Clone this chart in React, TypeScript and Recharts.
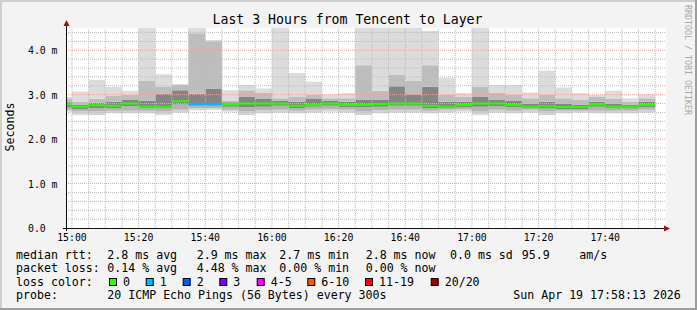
import React from "react";
import { ComposedChart, Area, Line, XAxis, YAxis, CartesianGrid, ReferenceLine } from "recharts";

// 5 minute steps (start of each step), milliseconds
const STEP_TIMES = [
  "14:55", "15:00", "15:05", "15:10", "15:15", "15:20", "15:25", "15:30", "15:35", "15:40", "15:45", "15:50",
  "15:55", "16:00", "16:05", "16:10", "16:15", "16:20", "16:25", "16:30", "16:35", "16:40", "16:45", "16:50",
  "16:55", "17:00", "17:05", "17:10", "17:15", "17:20", "17:25", "17:30", "17:35", "17:40", "17:45", "17:50",
];
const minMs = [
  2.62, 2.55, 2.54, 2.58, 2.58, 2.58, 2.55, 2.6, 2.65, 2.66, 2.62, 2.54,
  2.58, 2.6, 2.58, 2.6, 2.62, 2.6, 2.54, 2.58, 2.6, 2.6, 2.58, 2.6,
  2.62, 2.55, 2.6, 2.58, 2.6, 2.54, 2.58, 2.6, 2.58, 2.58, 2.58, 2.6,
];
const p10Ms = [
  2.66, 2.62, 2.62, 2.64, 2.64, 2.64, 2.62, 2.66, 2.7, 2.7, 2.66, 2.62,
  2.65, 2.66, 2.64, 2.66, 2.68, 2.66, 2.62, 2.65, 2.66, 2.66, 2.64, 2.66,
  2.68, 2.62, 2.66, 2.64, 2.66, 2.62, 2.64, 2.64, 2.64, 2.64, 2.64, 2.66,
];
const p25Ms = [
  2.72, 2.68, 2.7, 2.7, 2.74, 2.69, 2.69, 2.78, 2.75, 2.75, 2.73, 2.72,
  2.73, 2.75, 2.7, 2.73, 2.75, 2.72, 2.72, 2.73, 2.75, 2.75, 2.7, 2.69,
  2.72, 2.73, 2.74, 2.72, 2.69, 2.69, 2.68, 2.68, 2.73, 2.69, 2.69, 2.72,
];
const medianMs = [
  2.78, 2.73, 2.76, 2.75, 2.8, 2.73, 2.73, 2.85, 2.79, 2.79, 2.78, 2.8,
  2.8, 2.8, 2.75, 2.77, 2.8, 2.77, 2.77, 2.79, 2.8, 2.8, 2.75, 2.73,
  2.77, 2.8, 2.8, 2.77, 2.73, 2.74, 2.72, 2.72, 2.78, 2.73, 2.73, 2.77,
];
const p75Ms = [
  2.83, 2.78, 2.82, 2.84, 2.88, 2.87, 3.02, 3.1, 3.02, 3.13, 2.83, 2.95,
  2.9, 2.86, 2.84, 2.9, 2.86, 2.84, 2.88, 2.88, 3.19, 3.01, 3.18, 2.84,
  2.84, 2.95, 2.88, 2.86, 2.8, 2.84, 2.8, 2.78, 2.84, 2.8, 2.78, 2.84,
];
const p90Ms = [
  2.9, 2.84, 2.91, 2.97, 3.0, 3.31, 3.17, 3.22, 4.38, 4.2, 2.87, 3.1,
  3.05, 2.92, 2.95, 3.0, 2.92, 2.92, 3.66, 3.09, 3.44, 3.31, 3.66, 3.0,
  2.95, 3.18, 3.05, 3.0, 2.92, 3.0, 2.92, 2.88, 2.95, 2.9, 2.84, 2.92,
];
const maxMs = [
  2.95, 3.07, 3.33, 3.18, 3.09, 4.6, 3.46, 3.24, 4.6, 4.23, 3.1, 3.22,
  3.14, 4.6, 3.49, 3.29, 3.01, 3.03, 4.6, 4.6, 4.6, 4.6, 4.43, 3.38,
  3.03, 4.6, 3.22, 3.22, 3.05, 3.54, 3.16, 3.03, 2.99, 3.09, 2.92, 3.01,
];
const lossCount = [
  0, 0, 0, 0, 0, 0, 0, 0, 1, 1, 0, 0,
  0, 0, 0, 0, 0, 0, 0, 0, 0, 0, 0, 0,
  0, 0, 0, 0, 0, 0, 0, 0, 0, 0, 0, 0,
];

const X_TICKS = [900, 920, 940, 960, 980, 1000, 1020, 1040, 1060];
const Y_TICKS = [0, 1, 2, 3, 4];
const Y_TICK_LABELS = ["0.0", "1.0 m", "2.0 m", "3.0 m", "4.0 m"];

const LOSS_LEGEND = [
  { label: "0", color: "#26ff00" },
  { label: "1", color: "#00b8ff" },
  { label: "2", color: "#0059ff" },
  { label: "3", color: "#7e00ff" },
  { label: "4-5", color: "#ff00ff" },
  { label: "6-10", color: "#ff5500" },
  { label: "11-19", color: "#ff0000" },
  { label: "20/20", color: "#a10000" },
];

const toMin = (s: string) => {
  const [h, m] = s.split(":").map(Number);
  return h * 60 + m;
};
const lossColor = (n: number) =>
  n === 0 ? "#26ff00" : n === 1 ? "#00b8ff" : n === 2 ? "#0059ff" : n === 3 ? "#7e00ff"
    : n <= 5 ? "#ff00ff" : n <= 10 ? "#ff5500" : n <= 19 ? "#ff0000" : "#a10000";
const pad = (n: number) => String(n).padStart(2, "0");
const fmtTime = (v: number) => `${pad(Math.floor(v / 60))}:${pad(v % 60)}`;

// smoke bands, stacked
const rows: any[] = STEP_TIMES.map((s, i) => ({
  t: toMin(s),
  base: minMs[i],
  b1: p10Ms[i] - minMs[i],
  b2: p25Ms[i] - p10Ms[i],
  b3: p75Ms[i] - p25Ms[i],
  b4: p90Ms[i] - p75Ms[i],
  b5: maxMs[i] - p90Ms[i],
}));
rows.push({ ...rows[rows.length - 1], t: rows[rows.length - 1].t + 5 });

// median: one flat segment per step, coloured by loss
const medColors = Array.from(new Set(lossCount.map(lossColor)));
const medData = medColors.map((c) => {
  const pts: any[] = [];
  STEP_TIMES.forEach((s, i) => {
    if (lossColor(lossCount[i]) !== c) return;
    const t = toMin(s);
    pts.push({ t, m: medianMs[i] }, { t: t + 5, m: medianMs[i] }, { t: t + 5, m: null });
  });
  return pts;
});

const X_DOMAIN: [number, number] = [898 + 13 / 60, 1078 + 13 / 60];
const minorX: number[] = [];
for (let v = 900; v < X_DOMAIN[1]; v += 5) if (v % 20 !== 0) minorX.push(v);
const minorY: number[] = [];
for (let k = 1; k < 23; k++) if (k % 5 !== 0) minorY.push(k / 5);

const FONT = "'DejaVu Sans Mono', monospace";
const SMOKE = ["#d4d4d4", "#b4b4b4", "#858585", "#bdbdbd", "#dcdcdc"];

const XTick = (props: any) => (
  <text x={props.x} y={241} textAnchor="middle" fontFamily={FONT} fontSize={9.8} fill="#000">
    {fmtTime(props.payload.value)}
  </text>
);
const YTick = (props: any) => (
  <text x={28} y={props.y + 4} textAnchor="start" fontFamily={FONT} fontSize={9.8} fill="#000" xmlSpace="preserve">
    {Y_TICK_LABELS[Y_TICKS.indexOf(props.payload.value)]}
  </text>
);

export default function App() {
  const legendFont = { fontFamily: FONT, fontSize: 11.6, fill: "#000" };
  return (
    <div style={{ position: "fixed", left: 0, top: 0, width: 697, height: 310, background: "#f3f3f3", overflow: "hidden" }}>
      <ComposedChart width={697} height={310} data={rows} margin={{ top: 28, right: 31, left: 0, bottom: 0 }}>
        <CartesianGrid horizontal={false} vertical={false} fill="#ffffff" />
        <XAxis
          type="number"
          dataKey="t"
          domain={X_DOMAIN}
          allowDataOverflow
          ticks={X_TICKS}
          tick={<XTick />}
          tickLine={false}
          axisLine={false}
          height={82}
          interval={0}
        />
        <YAxis
          type="number"
          domain={[0, 4.5]}
          allowDataOverflow
          ticks={Y_TICKS}
          tick={<YTick />}
          tickLine={false}
          axisLine={false}
          width={66}
          interval={0}
        />
        <Area type="stepAfter" dataKey="base" stackId="smoke" stroke="none" fill="none" fillOpacity={0} isAnimationActive={false} activeDot={false} />
        {["b1", "b2", "b3", "b4", "b5"].map((k, i) => (
          <Area
            key={k}
            type="stepAfter"
            dataKey={k}
            stackId="smoke"
            stroke="none"
            fill={SMOKE[i]}
            fillOpacity={1}
            isAnimationActive={false}
            activeDot={false}
          />
        ))}
        {minorX.map((v) => (
          <ReferenceLine key={"mx" + v} x={v} stroke="#bdbdbd" strokeDasharray="1 1" />
        ))}
        {minorY.map((v) => (
          <ReferenceLine key={"my" + v} y={v} stroke="#bdbdbd" strokeDasharray="1 1" />
        ))}
        {X_TICKS.map((v) => (
          <ReferenceLine key={"Mx" + v} x={v} stroke="#f2a0a0" strokeDasharray="1 1" />
        ))}
        {[1, 2, 3, 4].map((v) => (
          <ReferenceLine key={"My" + v} y={v} stroke="#f2a0a0" strokeDasharray="1 1" />
        ))}
        {medColors.map((c, k) => (
          <Line
            key={c}
            data={medData[k]}
            type="linear"
            dataKey="m"
            stroke={c}
            strokeWidth={2}
            dot={false}
            activeDot={false}
            isAnimationActive={false}
          />
        ))}
      </ComposedChart>

      <svg width={697} height={310} style={{ position: "absolute", left: 0, top: 0, pointerEvents: "none" }}>
        {/* frame */}
        <rect x={0} y={0} width={697} height={2} fill="#cfcfcf" />
        <rect x={0} y={0} width={2} height={310} fill="#cfcfcf" />
        <rect x={0} y={308} width={697} height={2} fill="#9e9e9e" />
        <rect x={695} y={0} width={2} height={310} fill="#9e9e9e" />
        {/* axes */}
        <line x1={63} y1={228.5} x2={669} y2={228.5} stroke="#101010" strokeWidth={1} />
        <line x1={66.5} y1={231} x2={66.5} y2={24} stroke="#101010" strokeWidth={1} />
        <polygon points="664,225.5 664,231.5 670,228.5" fill="#a01010" />
        <polygon points="63.5,26 69.5,26 66.5,20" fill="#a01010" />
        {/* texts */}
        <text x={347.5} y={24} textAnchor="middle" fontFamily={FONT} fontSize={13.2} fill="#000">
          Last 3 Hours from Tencent to Layer
        </text>
        <text x={14} y={127} textAnchor="middle" fontFamily={FONT} fontSize={11.6} fill="#000" transform="rotate(-90 14 127)">
          Seconds
        </text>
        <text x={684.5} y={5} textAnchor="start" fontFamily={FONT} fontSize={8.3} fill="#a8a8a8" transform="rotate(90 684.5 5)">
          RRDTOOL / TOBI OETIKER
        </text>

        <text x={16} y={259} {...legendFont}>median rtt:</text>
        <text x={107.3} y={259} {...legendFont}>2.8 ms avg</text>
        <text x={196.7} y={259} {...legendFont}>2.9 ms max</text>
        <text x={279.3} y={259} {...legendFont}>2.7 ms min</text>
        <text x={365.7} y={259} {...legendFont}>2.8 ms now</text>
        <text x={450} y={259} {...legendFont}>0.0 ms sd</text>
        <text x={521.7} y={259} {...legendFont}>95.9</text>
        <text x={579.3} y={259} {...legendFont}>am/s</text>

        <text x={16} y={272} {...legendFont}>packet loss:</text>
        <text x={107.3} y={272} {...legendFont}>0.14 % avg</text>
        <text x={196.7} y={272} {...legendFont}>4.48 % max</text>
        <text x={279.3} y={272} {...legendFont}>0.00 % min</text>
        <text x={365.7} y={272} {...legendFont}>0.00 % now</text>

        <text x={16} y={285.5} {...legendFont}>loss color:</text>
        {LOSS_LEGEND.map((it, i) => {
          const boxX = [109, 145.7, 182.7, 219.3, 256.7, 307.3, 365, 430.7][i];
          return (
            <g key={it.label}>
              <rect x={boxX + 0.5} y={278.5} width={7} height={7} fill={it.color} stroke="#000" strokeWidth={1} />
              <text x={boxX + 14} y={285.5} {...legendFont}>{it.label}</text>
            </g>
          );
        })}

        <text x={16} y={299} {...legendFont}>probe:</text>
        <text x={107.3} y={299} {...legendFont}>20 ICMP Echo Pings (56 Bytes) every 300s</text>
        <text x={513.3} y={299} {...legendFont}>Sun Apr 19 17:58:13 2026</text>
      </svg>
    </div>
  );
}
